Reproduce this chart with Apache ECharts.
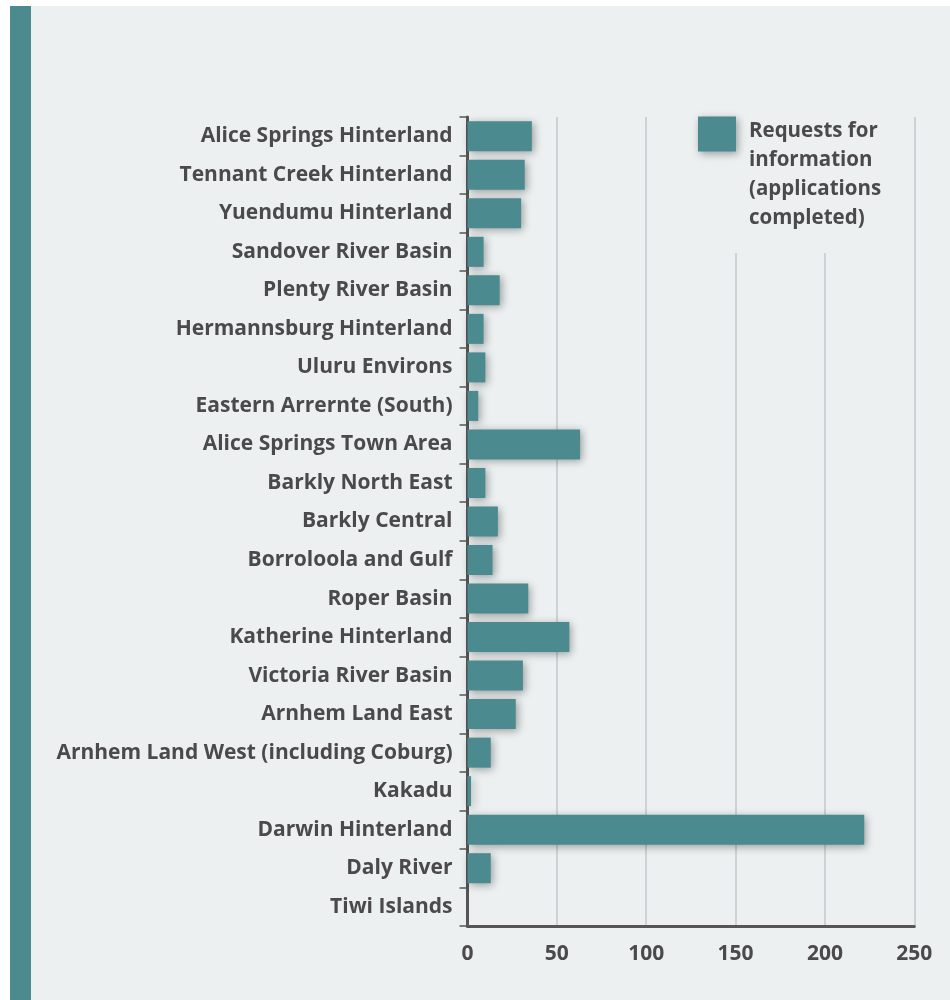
<!DOCTYPE html>
<html>
<head>
<meta charset="utf-8">
<script src="https://cdn.jsdelivr.net/npm/echarts@6/dist/echarts.min.js"></script>
<style>
  html, body { margin: 0; padding: 0; background: #ffffff; }
  #chart { width: 950px; height: 1000px; }
</style>
</head>
<body>
<div id="chart"></div>
<script>
var regions = [
    "Alice Springs Hinterland", "Tennant Creek Hinterland", "Yuendumu Hinterland",
    "Sandover River Basin", "Plenty River Basin", "Hermannsburg Hinterland",
    "Uluru Environs", "Eastern Arrernte (South)", "Alice Springs Town Area",
    "Barkly North East", "Barkly Central", "Borroloola and Gulf", "Roper Basin",
    "Katherine Hinterland", "Victoria River Basin", "Arnhem Land East",
    "Arnhem Land West (including Coburg)", "Kakadu", "Darwin Hinterland",
    "Daly River", "Tiwi Islands"
];
var requests = [36, 32, 30, 9, 18, 9, 10, 6, 63, 10, 17, 14, 34, 57, 31, 27, 13, 2, 222, 13, 0];
var seriesName = "Requests for\ninformation\n(applications\ncompleted)";
var xTicks = [0, 250, 50];  // min, max, interval

var teal = "#4b8a8f";
var panel = "#ecf0f1";
var ink = "#4a4a4a";
var font = "Open Sans";

var chart = echarts.init(document.getElementById("chart"));
chart.setOption({
    backgroundColor: "#ffffff",
    animation: false,
    graphic: [
        { type: "rect", z: -10, shape: { x: 10, y: 6, width: 940, height: 994 }, style: { fill: panel } },
        { type: "rect", z: -9, shape: { x: 10, y: 6, width: 21, height: 994 }, style: { fill: teal } }
    ],
    legend: {
        data: [{ name: seriesName, icon: "rect" }],
        left: 690,
        top: 35,
        padding: [0, 14, 20, 8],
        backgroundColor: panel,
        itemWidth: 38,
        itemHeight: 35,
        itemStyle: {
            shadowBlur: 8,
            shadowColor: "rgba(0,0,0,0.35)",
            shadowOffsetX: 2,
            shadowOffsetY: 2
        },
        // spacer line on top so the text starts level with the icon
        formatter: function(name) {
            return "{s| }\n" + name;
        },
        textStyle: {
            fontFamily: font,
            fontWeight: "bold",
            fontSize: 20.5,
            lineHeight: 29,
            color: ink,
            padding: [0, 0, 0, 8],
            rich: {
                s: { lineHeight: 82, fontSize: 10 }
            }
        }
    },
    grid: { left: 467.5, right: 35.7, top: 117, bottom: 74, containLabel: false },
    xAxis: {
        type: "value",
        min: xTicks[0],
        max: xTicks[1],
        interval: xTicks[2],
        axisLine: { show: true, lineStyle: { color: "#555555", width: 3 } },
        axisTick: { show: false },
        splitLine: { show: true, lineStyle: { color: "#c6c9ca", width: 1.5 } },
        axisLabel: {
            margin: 18,
            fontFamily: font,
            fontWeight: "bold",
            fontSize: 21,
            color: ink
        }
    },
    yAxis: {
        type: "category",
        data: regions,
        inverse: true,
        axisLine: { show: true, lineStyle: { color: "#555555", width: 3 } },
        axisTick: { show: true, length: 8, lineStyle: { color: "#555555", width: 1.5 } },
        splitLine: { show: false },
        axisLabel: {
            margin: 15,
            fontFamily: font,
            fontWeight: "bold",
            fontSize: 21,
            color: ink
        }
    },
    series: [{
        name: seriesName,
        type: "bar",
        data: requests,
        barWidth: 30,
        itemStyle: {
            color: teal,
            shadowBlur: 8,
            shadowColor: "rgba(0,0,0,0.35)",
            shadowOffsetX: 2,
            shadowOffsetY: 2
        }
    }]
});

window.addEventListener("resize", function() {
    chart.resize();
});
</script>
</body>
</html>
